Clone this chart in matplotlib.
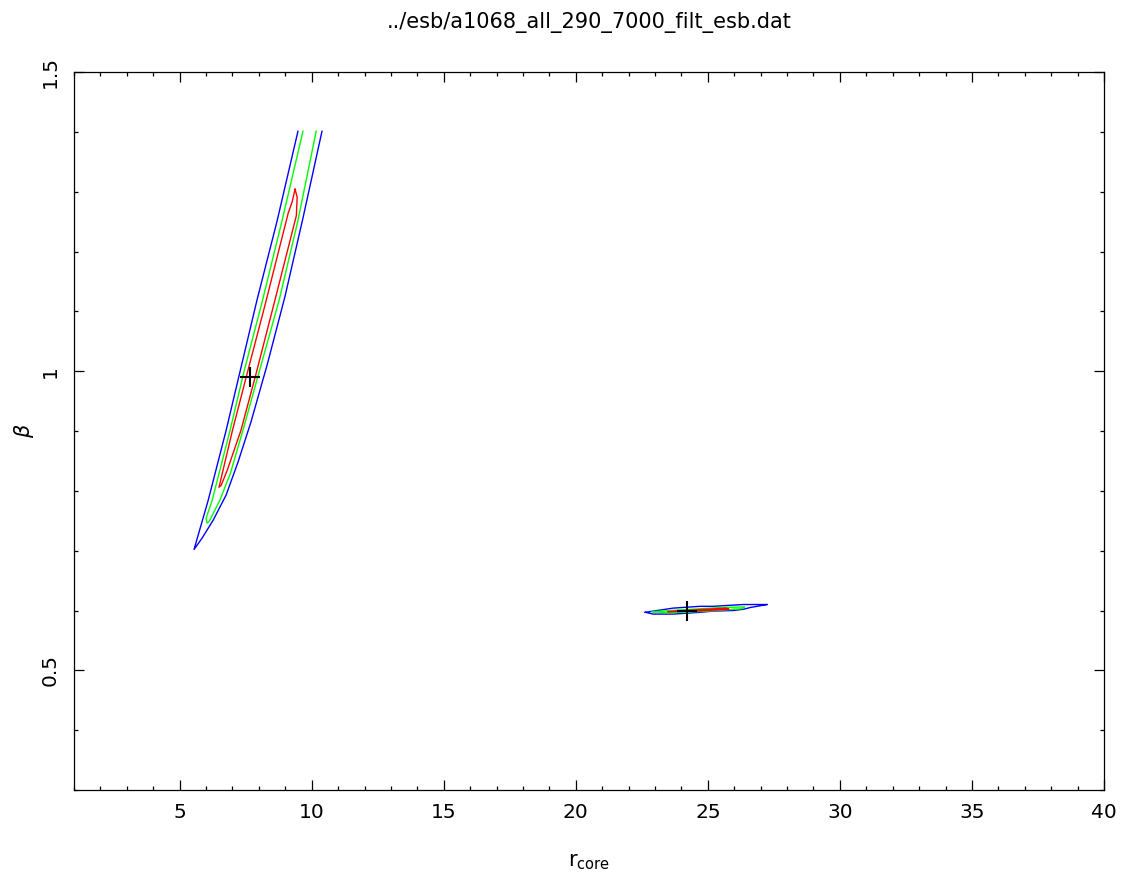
import numpy as np
import matplotlib
matplotlib.use("Agg")
import matplotlib.pyplot as plt
from matplotlib.ticker import MultipleLocator

# contour outlines (r_core, beta)
# big solution, open at the top of the grid (beta = 1.4)
blue1_r = [9.48, 8.69, 7.93, 7.29, 6.76, 6.08, 5.545, 5.85, 6.27, 6.76, 7.21, 7.70, 8.31, 8.99, 9.67, 10.39]
blue1_b = [1.401, 1.251, 1.119, 1.000, 0.901, 0.784, 0.702, 0.721, 0.751, 0.793, 0.848, 0.915, 1.010, 1.125, 1.256, 1.401]

green1_r = [9.67, 8.88, 8.12, 7.44, 6.91, 6.23, 6.00, 6.04, 6.12, 6.52, 6.92, 7.42, 8.05, 8.77, 9.48, 10.17]
green1_b = [1.401, 1.252, 1.115, 1.000, 0.901, 0.784, 0.754, 0.746, 0.749, 0.784, 0.829, 0.905, 1.005, 1.119, 1.252, 1.401]

red1_r = [9.37, 9.26, 9.11, 8.23, 7.52, 7.00, 6.49, 6.57, 6.80, 7.32, 7.86, 8.61, 9.42, 9.45, 9.37]
red1_b = [1.304, 1.283, 1.264, 1.110, 0.99, 0.901, 0.806, 0.809, 0.834, 0.901, 0.99, 1.119, 1.26, 1.291, 1.304]

# second (small) solution near r_core = 24
blue2_r = [22.63, 23.69, 24.71, 25.20, 26.34, 27.17, 27.25, 26.61, 26.34, 25.96, 25.20, 24.71, 23.69, 22.93, 22.63]
blue2_b = [0.597, 0.604, 0.607, 0.607, 0.610, 0.610, 0.610, 0.605, 0.602, 0.600, 0.599, 0.597, 0.594, 0.594, 0.597]

green2_r = [22.9, 24.0, 25.5, 26.4, 26.3, 25.0, 23.5, 22.9]
green2_b = [0.598, 0.601, 0.605, 0.606, 0.603, 0.599, 0.596, 0.598]

red2_r = [23.5, 24.5, 25.7, 25.8, 24.5, 23.5]
red2_b = [0.598, 0.601, 0.604, 0.602, 0.599, 0.598]

# best-fit markers
best_r = [7.67, 24.22]
best_b = [0.990, 0.599]

fig = plt.figure(figsize=(11.22, 8.77), dpi=100)
ax = fig.add_axes([74 / 1122, 87 / 877, 1030 / 1122, 718 / 877])

for r, b, c in [(blue1_r, blue1_b, "#0000ff"), (green1_r, green1_b, "#00ff00"), (red1_r, red1_b, "#ff0000"),
                (blue2_r, blue2_b, "#0000ff"), (green2_r, green2_b, "#00ff00"), (red2_r, red2_b, "#ff0000")]:
    ax.plot(r, b, color=c, lw=1.0)

ax.plot(best_r, best_b, "k+", ms=15, mew=1.5)

ax.set_xlim(1, 40)
ax.set_ylim(0.3, 1.5)
ax.xaxis.set_major_locator(MultipleLocator(5))
ax.xaxis.set_minor_locator(MultipleLocator(1))
ax.yaxis.set_major_locator(MultipleLocator(0.5))
ax.yaxis.set_minor_locator(MultipleLocator(0.1))
ax.set_yticks([0.5, 1.0, 1.5])
ax.set_yticklabels(["0.5", "1", "1.5"], rotation=90, va="center")

ax.tick_params(which="both", direction="in", top=True, right=True, width=0.9, labelsize=14.5)
ax.tick_params(which="major", length=7.2)
ax.tick_params(which="minor", length=3.2)
ax.tick_params(axis="x", pad=9)
ax.tick_params(axis="y", pad=10)
for s in ax.spines.values():
    s.set_linewidth(0.9)

ax.set_title("../esb/a1068_all_290_7000_filt_esb.dat", fontsize=15, pad=32)
ax.set_xlabel(r"$\mathregular{r_{core}}$", fontsize=15, labelpad=22)
ax.set_ylabel(r"$\beta$", fontsize=15, labelpad=4)

fig.savefig("out.png", dpi=100)
